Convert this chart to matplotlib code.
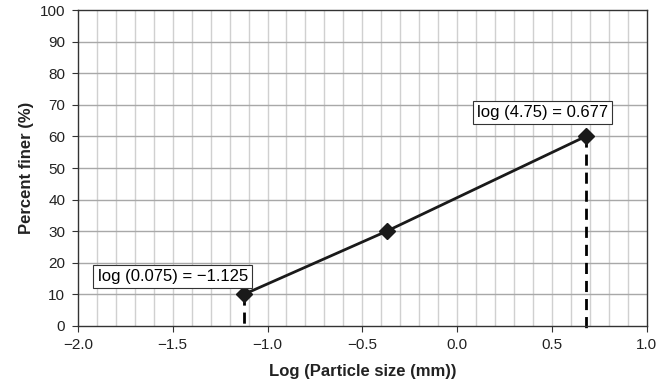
import matplotlib.pyplot as plt
import numpy as np

plt.rcParams['font.family'] = ['Liberation Sans', 'DejaVu Sans']

# data
log_size = [-1.125, -0.372, 0.677]
pct_finer = [10, 30, 60]
x_ticks = [-2.0, -1.5, -1.0, -0.5, 0.0, 0.5, 1.0]
y_ticks = [0, 10, 20, 30, 40, 50, 60, 70, 80, 90, 100]

fig = plt.figure(figsize=(6.71, 3.89), dpi=100)
ax = fig.add_axes([0.116, 0.162, 0.848, 0.812])

ax.set_xlim(-2.0, 1.0)
ax.set_ylim(0, 100)
ax.set_xticks(x_ticks)
ax.set_xticklabels([f'{t:.1f}'.replace('-', '\u2212') for t in x_ticks])
ax.set_yticks(y_ticks)

# grid: vertical every 0.1, horizontal every 10
for xv in np.arange(-1.9, 1.0, 0.1):
    ax.axvline(xv, color='#d0d0d0', lw=1.0, zorder=0)
for yv in y_ticks[1:-1]:
    ax.axhline(yv, color='#a8a8a8', lw=1.0, zorder=0)

# dashed drop lines from the two end points
for xs, ys in [(log_size[0], pct_finer[0]), (log_size[2], pct_finer[2])]:
    ax.plot([xs, xs], [ys, -1], color='black', lw=2, ls=(0, (4, 2.5)),
            zorder=2, clip_on=False)

ax.plot(log_size, pct_finer, color='#1a1a1a', lw=2, marker='D', ms=8,
        mfc='#1a1a1a', mec='#1a1a1a', zorder=3)

box = dict(boxstyle='square,pad=0.25', fc='white', ec='#333333', lw=0.8)
ax.text(-1.5, 15.6, 'log (0.075) = \u22121.125', ha='center', va='center',
        fontsize=12, bbox=box, zorder=4)
ax.text(0.45, 67.6, 'log (4.75) = 0.677', ha='center', va='center',
        fontsize=12, bbox=box, zorder=4)

for s in ax.spines.values():
    s.set_color('#333333')
    s.set_linewidth(1.0)
ax.tick_params(direction='out', length=4, width=0.8, color='#333333',
               labelsize=11, labelcolor='#222222', pad=5)

ax.set_xlabel('Log (Particle size (mm))', fontsize=12, fontweight='bold',
              color='#222222', labelpad=8)
ax.set_ylabel('Percent finer (%)', fontsize=12, fontweight='bold',
              color='#222222', labelpad=4)

fig.savefig('out.png', dpi=100)
